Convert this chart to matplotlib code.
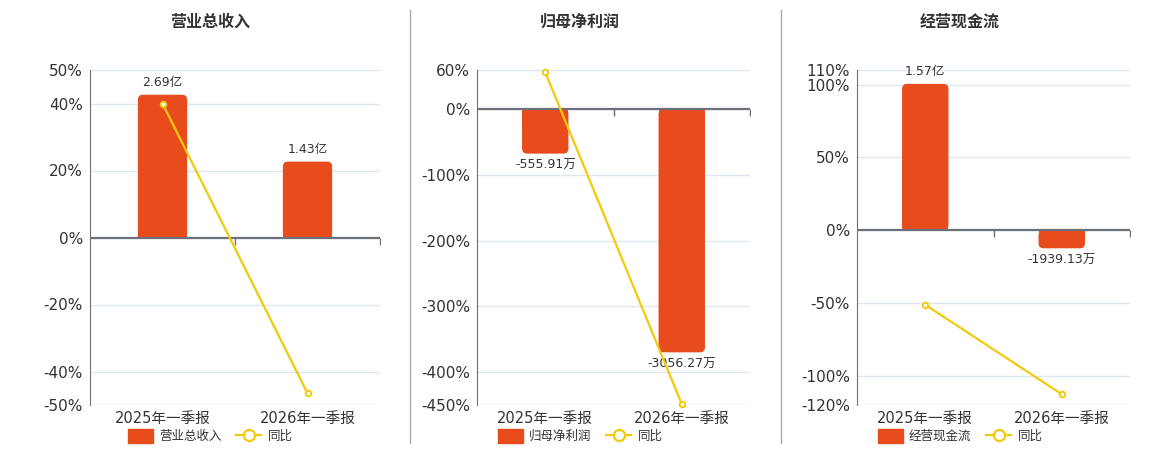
import matplotlib
matplotlib.use("Agg")
import matplotlib.pyplot as plt
import numpy as np
from matplotlib.lines import Line2D
from matplotlib.patches import FancyBboxPatch

plt.rcParams["font.family"] = ["DejaVu Sans", "Noto Sans CJK SC"]

categories = ["2025年一季报", "2026年一季报"]

revenue = [2.69, 1.43]  # 亿
revenue_labels = ["2.69亿", "1.43亿"]
revenue_yoy = [40.0, -46.5]
revenue_ticks = [50, 40, 20, 0, -20, -40, -50]

profit = [-555.91, -3056.27]  # 万
profit_labels = ["-555.91万", "-3056.27万"]
profit_yoy = [56.5, -448.5]
profit_ticks = [60, 0, -100, -200, -300, -400, -450]

cashflow = [15700.0, -1939.13]  # 万
cashflow_labels = ["1.57亿", "-1939.13万"]
cashflow_yoy = [-51.2, -112.6]
cashflow_ticks = [110, 100, 50, 0, -50, -100, -120]

BAR = "#E84C1D"
LINE = "#F2CA0A"
GRID = "#E0E6F1"
AXIS = "#6E7079"
TEXT = "#333333"

fig = plt.figure(figsize=(11.6, 4.5), dpi=100)

panels = [
    ("营业总收入", revenue, revenue_labels, revenue_yoy, revenue_ticks, 15.84, 90, 290, 210),
    ("归母净利润", profit, profit_labels, profit_yoy, profit_ticks, 0.121, 477, 273, 580),
    ("经营现金流", cashflow, cashflow_labels, cashflow_yoy, cashflow_ticks, 0.0064, 857, 273, 960),
]

AX_H = 335

for title, values, labels, yoy, ticks, scale, left, width, center in panels:
    ax = fig.add_axes([left / 1160, 45 / 450, width / 1160, AX_H / 450])
    axb = ax.twinx()
    ax.set_zorder(axb.get_zorder() + 1)
    ax.patch.set_visible(False)

    x = np.arange(len(categories))
    lo, hi = min(ticks), max(ticks)

    # bars on their own (hidden) scale, zero aligned with the percent axis
    axb.set_xlim(-0.5, len(categories) - 0.5)
    axb.set_ylim(lo / scale, hi / scale)
    axb.set_yticks(np.array(ticks) / scale)
    axb.yaxis.grid(True, color=GRID, linewidth=1)
    axb.tick_params(axis="y", length=0, labelright=False)
    for s in axb.spines.values():
        s.set_visible(False)

    # rounded corners: radius ~5 px
    px_x = width / len(categories)
    px_y = AX_H / ((hi - lo) / scale)
    radius = 5 / px_x
    bars = axb.bar(x, values, width=0.34, color=BAR, zorder=2)
    for rect, v, lab in zip(bars, values, labels):
        rounded = FancyBboxPatch(
            (rect.get_x(), min(0, v)), rect.get_width(), abs(v),
            boxstyle=f"round,pad=0,rounding_size={radius}",
            mutation_aspect=px_x / px_y,
            facecolor=BAR, edgecolor="none", zorder=2,
        )
        axb.add_patch(rounded)
        rect.set_height(v / 2)
        axb.annotate(
            lab,
            (rect.get_x() + rect.get_width() / 2, v),
            xytext=(0, 4 if v >= 0 else -4),
            textcoords="offset points",
            ha="center",
            va="bottom" if v >= 0 else "top",
            fontsize=9,
            color=TEXT,
        )

    ax.set_xlim(-0.5, len(categories) - 0.5)
    ax.set_ylim(lo, hi)
    ax.set_yticks(ticks)
    ax.set_yticklabels([f"{t}%" for t in ticks])
    ax.tick_params(axis="y", length=0, pad=5, labelsize=11, labelcolor=TEXT)
    ax.set_xticks(x)
    ax.set_xticklabels(categories)
    ax.tick_params(axis="x", length=0, pad=4, labelsize=10.5, labelcolor=TEXT)
    for name in ["top", "right", "bottom"]:
        ax.spines[name].set_visible(False)
    ax.spines["left"].set_color(AXIS)

    ax.axhline(0, color=AXIS, linewidth=1.6, zorder=3)
    ax.plot(x + 0.5, np.zeros(len(x)), ls="none", marker=3, ms=5,
            color=AXIS, mew=1, zorder=3)

    ax.plot(x, yoy, color=LINE, linewidth=1.6, marker="o", ms=4,
            mfc="white", mec=LINE, mew=1.4, zorder=4, clip_on=False)

    fig.text(center / 1160, 1 - 22 / 450, title, ha="center", va="center",
             fontsize=11.5, fontweight="bold", color=TEXT)

    handles = [
        FancyBboxPatch((0, 0), 1, 1, boxstyle="round,pad=0,rounding_size=0.2",
                       facecolor=BAR, edgecolor=BAR),
        Line2D([0], [0], color=LINE, linewidth=1.6, marker="o", ms=8,
               mfc="white", mec=LINE, mew=1.6),
    ]
    fig.legend(handles, [title, "同比"], loc="center",
               bbox_to_anchor=(center / 1160, 1 - 436 / 450), ncol=2,
               frameon=False, fontsize=9, handlelength=2.0, handleheight=1.3,
               columnspacing=1.2, handletextpad=0.5, labelcolor=TEXT)

for sx in [410, 781]:
    fig.add_artist(Line2D([sx / 1160, sx / 1160], [1 - 10 / 450, 1 - 443 / 450],
                          color="#AAAAAA", linewidth=1))

fig.savefig("out.png", dpi=100)
